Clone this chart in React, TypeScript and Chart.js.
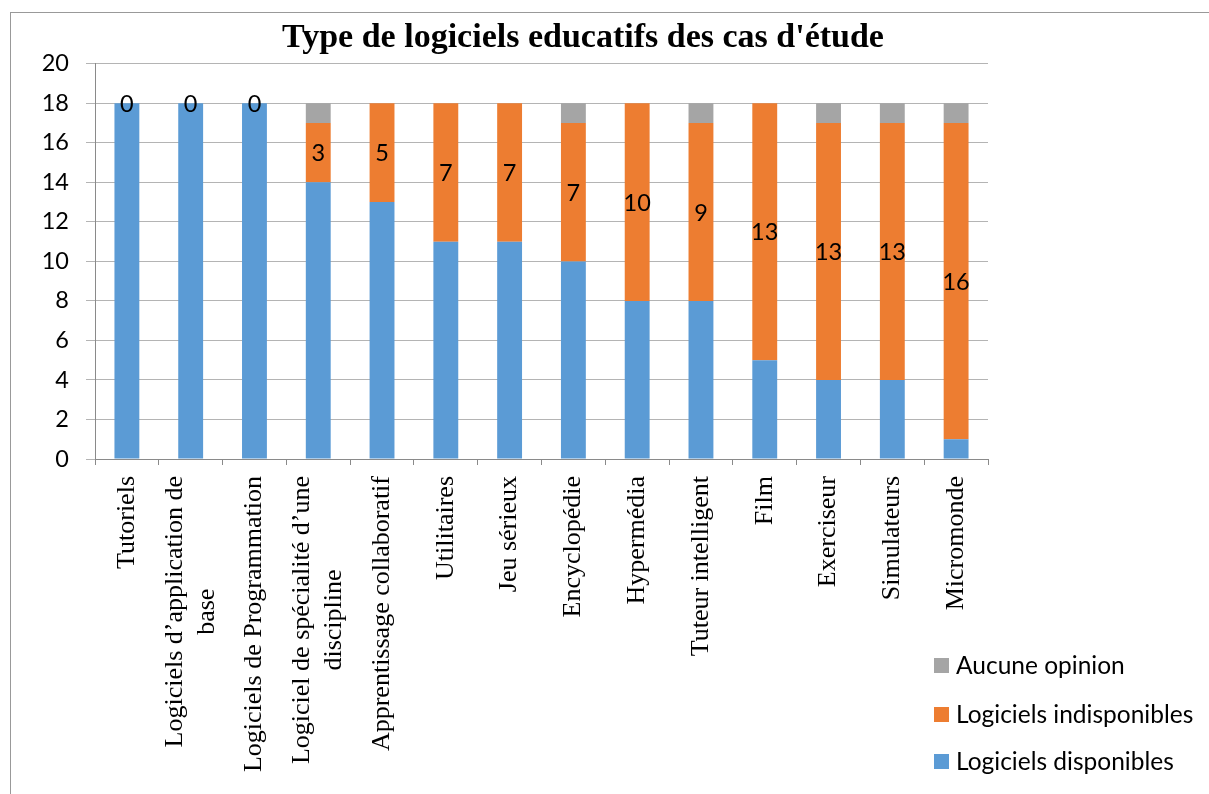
import React, { useEffect, useRef } from "react";
import { Chart, registerables } from "chart.js";

Chart.register(...registerables);

const chartTitle = "Type de logiciels educatifs des cas d'étude";

const categories: (string | string[])[] = [
  "Tutoriels",
  ["Logiciels d’application de", "base"],
  "Logiciels de Programmation",
  ["Logiciel de spécialité d’une", "discipline"],
  "Apprentissage collaboratif",
  "Utilitaires",
  "Jeu sérieux",
  "Encyclopédie",
  "Hypermédia",
  "Tuteur intelligent",
  "Film",
  "Exerciseur",
  "Simulateurs",
  "Micromonde",
];

const logicielsDisponibles = [18, 18, 18, 14, 13, 11, 11, 10, 8, 8, 5, 4, 4, 1];
const logicielsIndisponibles = [0, 0, 0, 3, 5, 7, 7, 7, 10, 9, 13, 13, 13, 16];
const aucuneOpinion = [0, 0, 0, 1, 0, 0, 0, 1, 0, 1, 0, 1, 1, 1];

const seriesNames = ["Logiciels disponibles", "Logiciels indisponibles", "Aucune opinion"];
const seriesColors = ["#5B9BD5", "#ED7D31", "#A5A5A5"];

const yMin = 0;
const yMax = 20;
const yStep = 2;

const SANS = "Lato";
const SERIF = "'Liberation Serif'";

const dataLabelPlugin = {
  id: "orangeLabels",
  afterDatasetsDraw(chart: any) {
    const ctx = chart.ctx;
    const meta = chart.getDatasetMeta(1);
    ctx.save();
    ctx.font = `23.5px ${SANS}`;
    ctx.fillStyle = "#000";
    ctx.textAlign = "center";
    ctx.textBaseline = "middle";
    meta.data.forEach((el: any, i: number) => {
      const v = logicielsIndisponibles[i];
      const yc = (el.y + el.base) / 2;
      ctx.fillText(String(v), el.x, yc + 1);
    });
    ctx.restore();
  },
};

const xLabelPlugin = {
  id: "xLabels",
  afterDraw(chart: any) {
    const ctx = chart.ctx;
    const xs = chart.scales.x;
    const top = chart.chartArea.bottom + 17;
    const LH = 32;
    ctx.save();
    ctx.font = `26px ${SERIF}`;
    ctx.fillStyle = "#000";
    ctx.textAlign = "center";
    ctx.textBaseline = "middle";
    categories.forEach((lab, i) => {
      const lines = Array.isArray(lab) ? lab : [lab];
      const w = Math.max(...lines.map((l) => ctx.measureText(l).width));
      const x = xs.getPixelForValue(i);
      ctx.save();
      ctx.translate(x, top);
      ctx.rotate(-Math.PI / 2);
      lines.forEach((l, j) => {
        ctx.fillText(l, -w / 2, (j - (lines.length - 1) / 2) * LH);
      });
      ctx.restore();
    });
    ctx.restore();
  },
};

export default function App() {
  const ref = useRef<HTMLCanvasElement>(null);

  useEffect(() => {
    const values = [logicielsDisponibles, logicielsIndisponibles, aucuneOpinion];
    const chart = new Chart(ref.current as HTMLCanvasElement, {
      type: "bar",
      data: {
        labels: categories as any,
        datasets: values.map((d, k) => ({
          label: seriesNames[k],
          data: d,
          backgroundColor: seriesColors[k],
          borderWidth: 0,
          barPercentage: 0.39,
          categoryPercentage: 1,
        })),
      },
      options: {
        animation: false,
        responsive: false,
        layout: { padding: 0 },
        plugins: {
          legend: { display: false },
          tooltip: { enabled: false },
          title: {
            display: true,
            text: chartTitle,
            color: "#000",
            font: { family: SERIF, size: 34, weight: "bold" },
            padding: { top: 18, bottom: 5 },
          },
        },
        scales: {
          x: {
            stacked: true,
            grid: {
              display: true,
              offset: true,
              drawOnChartArea: false,
              drawTicks: true,
              tickLength: 6,
              color: "#8a8a8a",
            },
            border: { display: true, color: "#8a8a8a" },
            ticks: { display: false },
            afterFit: (s: any) => {
              s.height = 794 - 459;
            },
          },
          y: {
            stacked: true,
            min: yMin,
            max: yMax,
            ticks: {
              stepSize: yStep,
              color: "#000",
              font: { family: SANS, size: 23.5 },
              padding: 17,
            },
            grid: { color: "#b4b4b4", tickLength: 9, drawTicks: true },
            border: { display: true, color: "#8a8a8a" },
            afterFit: (s: any) => {
              s.width = 95;
            },
          },
          y2: {
            type: "linear",
            position: "right",
            display: true,
            grid: { display: false, drawTicks: false },
            ticks: { display: false },
            border: { display: false },
            afterFit: (s: any) => {
              s.width = 178;
            },
          },
        },
      } as any,
      plugins: [dataLabelPlugin, xLabelPlugin],
    });
    return () => chart.destroy();
  }, []);

  const legendCenters = [665, 714, 761];
  const legendOrder = [2, 1, 0];

  return (
    <div
      style={{
        position: "fixed",
        left: 0,
        top: 0,
        width: 1209,
        height: 794,
        background: "#fff",
        overflow: "hidden",
      }}
    >
      <div
        style={{
          position: "absolute",
          left: 10,
          top: 12,
          width: 1400,
          height: 1000,
          borderTop: "1px solid #999",
          borderLeft: "1px solid #999",
        }}
      />
      <canvas
        ref={ref}
        width={1166}
        height={794}
        style={{ position: "absolute", left: 0, top: 0, width: 1166, height: 794 }}
      />
      {legendOrder.map((k, r) => (
        <div
          key={k}
          style={{
            position: "absolute",
            left: 934,
            top: legendCenters[r] - 15,
            height: 30,
            display: "flex",
            alignItems: "center",
            whiteSpace: "nowrap",
          }}
        >
          <div style={{ width: 15, height: 15, background: seriesColors[k], marginRight: 7 }} />
          <span style={{ fontFamily: SANS, fontSize: 24.5, lineHeight: "30px", color: "#000" }}>
            {seriesNames[k]}
          </span>
        </div>
      ))}
    </div>
  );
}
